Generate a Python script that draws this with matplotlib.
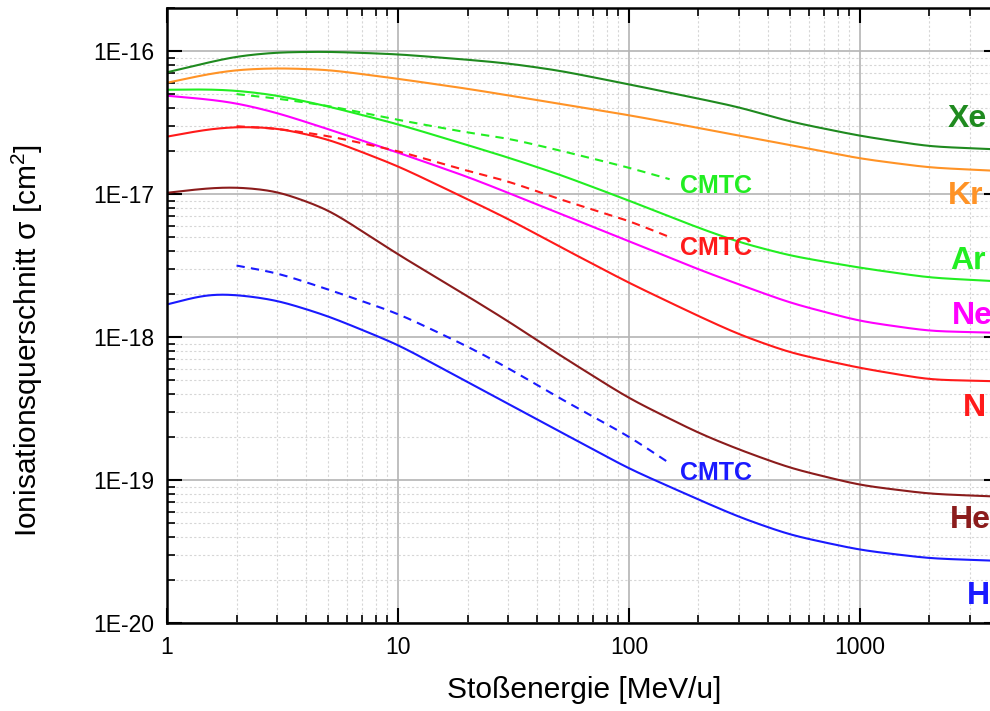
import matplotlib
matplotlib.use("Agg")
import matplotlib.pyplot as plt
import numpy as np
from matplotlib.ticker import LogLocator, FuncFormatter, NullFormatter

plt.rcParams['font.family'] = ['Liberation Sans', 'DejaVu Sans']
plt.rcParams['mathtext.fontset'] = 'custom'
plt.rcParams['mathtext.rm'] = 'Liberation Sans'
plt.rcParams['mathtext.it'] = 'Liberation Sans:italic'

# Stoßenergie [MeV/u]
E = [1, 1.5, 2, 3, 5, 10, 20, 30, 50, 100, 200, 300, 500, 1000, 2000, 4000]

# Ionisationsquerschnitte [cm^2]
sig_xe = [7.1e-17, 8.3e-17, 9.2e-17, 9.8e-17, 9.9e-17, 9.5e-17, 8.7e-17, 8.2e-17, 7.3e-17,
          5.85e-17, 4.65e-17, 4.05e-17, 3.2e-17, 2.55e-17, 2.15e-17, 2.05e-17]
sig_kr = [6.0e-17, 6.9e-17, 7.4e-17, 7.6e-17, 7.4e-17, 6.4e-17, 5.45e-17, 4.9e-17, 4.28e-17,
          3.56e-17, 2.9e-17, 2.56e-17, 2.2e-17, 1.77e-17, 1.53e-17, 1.45e-17]
sig_ar = [5.36e-17, 5.4e-17, 5.3e-17, 4.9e-17, 4.1e-17, 3.08e-17, 2.2e-17, 1.8e-17, 1.37e-17,
          9.0e-18, 5.8e-18, 4.6e-18, 3.7e-18, 3.05e-18, 2.6e-18, 2.45e-18]
sig_ne = [4.87e-17, 4.6e-17, 4.33e-17, 3.7e-17, 2.84e-17, 1.95e-17, 1.32e-17, 1.02e-17, 7.3e-18,
          4.68e-18, 2.97e-18, 2.33e-18, 1.73e-18, 1.29e-18, 1.1e-18, 1.07e-18]
sig_n = [2.52e-17, 2.84e-17, 2.96e-17, 2.9e-17, 2.42e-17, 1.57e-17, 9.2e-18, 6.7e-18, 4.3e-18,
         2.39e-18, 1.4e-18, 1.04e-18, 7.75e-19, 6.07e-19, 5.03e-19, 4.9e-19]
sig_he = [1.02e-17, 1.1e-17, 1.12e-17, 1.05e-17, 7.8e-18, 3.78e-18, 1.93e-18, 1.29e-18, 7.5e-19,
          3.72e-19, 2.13e-19, 1.63e-19, 1.21e-19, 9.2e-20, 8.0e-20, 7.65e-20]
sig_h = [1.69e-18, 2.0e-18, 1.98e-18, 1.81e-18, 1.4e-18, 8.85e-19, 4.84e-19, 3.4e-19, 2.19e-19,
         1.2e-19, 7.3e-20, 5.5e-20, 4.12e-20, 3.24e-20, 2.83e-20, 2.72e-20]

# CMTC-Rechnungen
E_cmtc = [2, 3, 5, 10, 20, 30, 50, 100, 150]
cmtc_ar = [5.0e-17, 4.66e-17, 4.14e-17, 3.3e-17, 2.69e-17, 2.45e-17, 2.02e-17, 1.53e-17, 1.27e-17]
cmtc_n = [2.98e-17, 2.87e-17, 2.55e-17, 2.0e-17, 1.45e-17, 1.23e-17, 9.2e-18, 6.5e-18, 5.0e-18]
cmtc_h = [3.16e-18, 2.81e-18, 2.15e-18, 1.46e-18, 8.6e-19, 6.07e-19, 3.74e-19, 2.02e-19, 1.31e-19]

names = ["Xe", "Kr", "Ar", "Ne", "N", "He", "H"]
colors = ["#1f8a1f", "#ff9326", "#22ee22", "#ff00ff", "#ff1a1a", "#8b1c1c", "#1a1aff"]
series = [sig_xe, sig_kr, sig_ar, sig_ne, sig_n, sig_he, sig_h]
label_pos = [(2404, 3.34e-17), (2404, 9.64e-18), (2453, 3.38e-18), (2503, 1.41e-18),
             (2792, 3.2e-19), (2453, 5.25e-20), (2905, 1.54e-20)]
cmtc_series = [cmtc_ar, cmtc_n, cmtc_h]
cmtc_colors = ["#22ee22", "#ff1a1a", "#1a1aff"]
cmtc_label_y = [1.13e-17, 4.16e-18, 1.12e-19]


def smooth_curve(x, y, n=600, sig=0.06):
    # lineare Interpolation in log-log, danach leicht geglaettet
    lx, ly = np.log10(x), np.log10(y)
    t = np.linspace(lx[0], lx[-1], n)
    yi = np.interp(t, lx, ly)
    dt = t[1] - t[0]
    k = int(4 * sig / dt)
    kern = np.exp(-0.5 * (np.arange(-k, k + 1) * dt / sig) ** 2)
    kern /= kern.sum()
    left = 2 * yi[0] - yi[k:0:-1]
    right = 2 * yi[-1] - yi[-2:-k - 2:-1]
    ys = np.convolve(np.concatenate([left, yi, right]), kern, mode="valid")
    return 10**t, 10**ys


fig = plt.figure(figsize=(9.9, 7.11), dpi=100)
ax = fig.add_axes([167 / 990, 88 / 711, 832 / 990, 615 / 711])
ax.set_xscale("log")
ax.set_yscale("log")
ax.set_xlim(1, 4000)
ax.set_ylim(1e-20, 2e-16)

ax.grid(which="major", color="#b4b4b4", linewidth=1.2, linestyle="-")
ax.grid(which="minor", color="#d6d6d6", linewidth=0.8, linestyle=(0, (2, 2)))
ax.set_axisbelow(True)

for c, y in zip(colors, series):
    xs, ys = smooth_curve(E, y)
    ax.plot(xs, ys, color=c, linewidth=1.5)

for c, y in zip(cmtc_colors, cmtc_series):
    xs, ys = smooth_curve(E_cmtc, y, n=320)
    ax.plot(xs, ys, color=c, linewidth=1.5, linestyle=(0, (4, 3)))

for name, c, (lx, ly) in zip(names, colors, label_pos):
    ax.text(lx, ly, name, color=c, fontsize=23, fontweight="bold", ha="left", va="center")

for c, ly in zip(cmtc_colors, cmtc_label_y):
    ax.text(166, ly, "CMTC", color=c, fontsize=18, fontweight="bold", ha="left", va="center")

ax.xaxis.set_major_locator(LogLocator(base=10, numticks=10))
ax.xaxis.set_minor_locator(LogLocator(base=10, subs=np.arange(2, 10), numticks=20))
ax.yaxis.set_major_locator(LogLocator(base=10, numticks=10))
ax.yaxis.set_minor_locator(LogLocator(base=10, subs=np.arange(2, 10), numticks=20))
ax.xaxis.set_major_formatter(FuncFormatter(lambda v, p: f"{v:g}"))
ax.yaxis.set_major_formatter(FuncFormatter(lambda v, p: f"1E{int(round(np.log10(v)))}"))
ax.xaxis.set_minor_formatter(NullFormatter())
ax.yaxis.set_minor_formatter(NullFormatter())

ax.tick_params(which="both", direction="in", top=True, right=True, labelsize=16.5)
ax.tick_params(which="major", length=11, width=1.5, pad=9)
ax.tick_params(which="minor", length=6, width=1.2)
for sp in ax.spines.values():
    sp.set_linewidth(1.8)

ax.set_xlabel("Stoßenergie [MeV/u]", fontsize=21.5)
ax.set_ylabel("Ionisationsquerschnitt σ [cm$^2$]", fontsize=21.5)
ax.xaxis.set_label_coords(0.502, -0.086)
ax.yaxis.set_label_coords(-0.147, 0.46)

fig.savefig("out.png", dpi=100)
